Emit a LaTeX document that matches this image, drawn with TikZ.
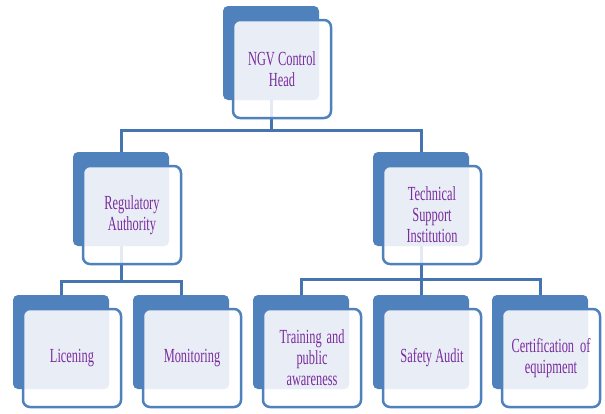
\documentclass[tikz,border=0pt]{standalone}
\usepackage{fontspec}
\setmainfont{Liberation Serif}[FakeStretch=0.62]
\definecolor{darkblue}{HTML}{4F81BD}
\definecolor{linkblue}{HTML}{4674B0}
\definecolor{lightfill}{HTML}{E9EEF6}
\definecolor{txtpurple}{HTML}{7A2C9E}
\tikzset{
  backbox/.style={rectangle, fill=darkblue, rounded corners=5pt, minimum width=96pt, minimum height=94pt, inner sep=0pt, outer sep=0pt},
  frontbox/.style={rectangle, draw=darkblue, line width=2.5pt, rounded corners=7pt, minimum width=98pt, minimum height=98pt, inner sep=0pt, outer sep=0pt, align=center, text=txtpurple, font=\fontsize{20}{21}\selectfont},
  link/.style={draw=linkblue, line width=3pt}
}
% back box (opaque, dark)
\newcommand\backbox[3]{%
  \node[backbox, anchor=north west] (#1b) at (#2,#3) {};
}
% front box, offset from its back box
\newcommand\frontbox[2]{%
  \path[fill=white, fill opacity=0.85, rounded corners=7pt] ([shift={(10,14)}]#1b.north west) rectangle ++(98,98);
  \begin{scope}
    \clip[rounded corners=5pt] (#1b.north west) rectangle (#1b.south east);
    \fill[lightfill, rounded corners=7pt] ([shift={(10,14)}]#1b.north west) rectangle ++(98,98);
  \end{scope}
  \node[frontbox, anchor=north west] (#1) at ([shift={(10,14)}]#1b.north west) {#2};
}
\begin{document}
\begin{tikzpicture}[x=1pt, y=-1pt]
\useasboundingbox (0,0) rectangle (605,413);
% back boxes
\backbox{ngv}{223}{6}
\backbox{reg}{73}{152}
\backbox{tec}{373}{152}
\backbox{lic}{13}{295}
\backbox{mon}{133}{295}
\backbox{tra}{253}{295}
\backbox{saf}{373}{295}
\backbox{cer}{492}{295}
% junctions
\coordinate (jtop) at ([shift={(0,30)}]ngvb.south);
\coordinate (jleft) at ([shift={(0,35)}]regb.south);
\coordinate (jright) at ([shift={(0,33)}]tecb.south);
% connectors
\draw[link] (ngvb.south) -- (jtop);
\draw[link] (regb.north) |- (jtop) -| (tecb.north);
\draw[link] (regb.south) -- (jleft);
\draw[link] (licb.north) |- (jleft) -| (monb.north);
\draw[link] (tecb.south) -- (jright);
\draw[link] (trab.north) |- (jright) -| (cerb.north);
\draw[link] (jright) -- (safb.north);
% front boxes with text
\frontbox{ngv}{NGV Control\\Head}
\frontbox{reg}{Regulatory\\Authority}
\frontbox{tec}{Technical\\Support\\Institution}
\frontbox{lic}{Licening}
\frontbox{mon}{Monitoring}
\frontbox{tra}{\makebox[65pt][s]{Training and}\\public\\awareness}
\frontbox{saf}{Safety Audit}
\frontbox{cer}{\makebox[79pt][s]{Certification of}\\equipment}
\end{tikzpicture}
\end{document}
